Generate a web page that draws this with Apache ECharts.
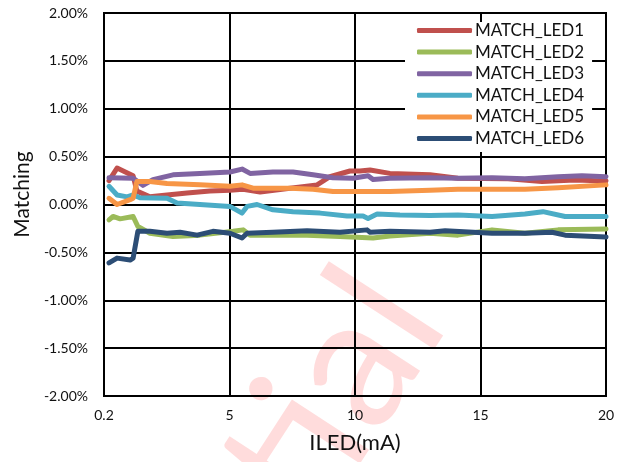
<!DOCTYPE html>
<html>
<head>
<meta charset="utf-8">
<script src="https://cdn.jsdelivr.net/npm/echarts@6/dist/echarts.min.js"></script>
<style>
html,body{margin:0;padding:0;background:#fff;}
#chart{width:621px;height:462px;}
</style>
</head>
<body>
<div id="chart"></div>
<script>
// ---- data (ILED in mA, matching in %) ----
const seriesNames = ['MATCH_LED1','MATCH_LED2','MATCH_LED3','MATCH_LED4','MATCH_LED5','MATCH_LED6'];
const xTickValues = [0, 5, 10, 15, 20];
const xTickLabels = ['0.2', '5', '10', '15', '20'];

const led1X = [0.2,0.52,1.16,1.31,1.83,2.51,3.31,4.22,5.02,5.54,6.22,7.41,8.49,9.0,9.8,10.2,10.6,11.39,12.99,14.1,16.1,17.45,18.76,20];
const led1Y = [0.25,0.38,0.30,0.14,0.08,0.10,0.12,0.14,0.15,0.16,0.13,0.17,0.205,0.29,0.35,0.35,0.36,0.325,0.31,0.275,0.27,0.24,0.255,0.245];

const led2X = [0.2,0.36,0.64,1.16,1.35,1.83,2.75,3.82,5.14,5.54,5.82,6.73,8.09,9.4,10.72,11.39,12.99,14.1,15.46,16.77,18.09,20];
const led2Y = [-0.16,-0.125,-0.15,-0.125,-0.23,-0.30,-0.335,-0.32,-0.28,-0.265,-0.32,-0.32,-0.32,-0.335,-0.35,-0.33,-0.30,-0.32,-0.265,-0.30,-0.265,-0.255];

const led3X = [0.2,1.16,1.55,1.95,2.75,3.82,5.02,5.50,5.82,6.73,7.53,8.33,9.12,9.92,10.52,10.72,11.39,12.99,14.1,15.46,16.77,18.09,19.04,20];
const led3Y = [0.28,0.275,0.20,0.26,0.31,0.325,0.34,0.37,0.325,0.34,0.34,0.31,0.28,0.275,0.30,0.26,0.275,0.28,0.275,0.28,0.27,0.29,0.30,0.29];

const led4X = [0.2,0.52,0.92,1.16,1.43,2.51,2.91,3.82,5.02,5.50,5.70,6.10,6.73,7.53,8.61,9.68,10.32,10.52,10.88,11.79,12.99,14.1,15.46,16.77,17.49,18.37,20];
const led4Y = [0.19,0.10,0.08,0.10,0.07,0.065,0.015,0.0,-0.02,-0.09,-0.02,0.0,-0.055,-0.075,-0.09,-0.12,-0.12,-0.145,-0.10,-0.11,-0.115,-0.11,-0.125,-0.10,-0.075,-0.125,-0.125];

const led5X = [0.2,0.52,1.04,1.16,1.31,1.83,2.51,3.82,5.02,5.50,5.94,7.41,8.33,9.12,10.08,11.39,12.99,14.1,15.46,16.77,18.09,20];
const led5Y = [0.065,0.0,0.05,0.065,0.24,0.24,0.22,0.205,0.19,0.205,0.17,0.17,0.16,0.135,0.135,0.135,0.15,0.16,0.16,0.16,0.175,0.205];

const led6X = [0.2,0.52,1.04,1.16,1.35,1.83,2.51,3.03,3.71,4.34,5.02,5.50,5.70,6.73,8.09,9.40,10.48,10.6,11.39,12.99,13.59,15.46,16.77,17.85,18.37,20];
const led6Y = [-0.61,-0.56,-0.58,-0.56,-0.28,-0.28,-0.30,-0.29,-0.32,-0.28,-0.30,-0.35,-0.30,-0.29,-0.275,-0.29,-0.265,-0.29,-0.28,-0.29,-0.275,-0.30,-0.30,-0.29,-0.32,-0.34];

const colors = ['#C0504D','#9BBB59','#8064A2','#4BACC6','#F79646','#2C4D75'];

const xs = [led1X, led2X, led3X, led4X, led5X, led6X];
const ys = [led1Y, led2Y, led3Y, led4Y, led5Y, led6Y];

const FONT = 'Lato, "Liberation Sans", sans-serif';

const chart = echarts.init(document.getElementById('chart'), null, {renderer: 'canvas'});

const series = seriesNames.map((name, i) => ({
  name: name,
  type: 'line',
  symbol: 'none',
  smooth: false,
  data: xs[i].map((x, j) => [x, ys[i][j]]),
  lineStyle: {width: 5, color: colors[i], cap: 'round', join: 'round'},
  itemStyle: {color: colors[i]},
  emphasis: {disabled: true},
  z: 3
}));

chart.setOption({
  animation: false,
  backgroundColor: '#fff',
  color: colors,
  grid: {left: 104, right: 15, top: 13, bottom: 66, show: true, borderColor: '#000', borderWidth: 2},
  legend: {
    orient: 'vertical',
    left: 405,
    top: 22,
    padding: [0, 8, 5, 12],
    backgroundColor: '#fff',
    itemWidth: 55,
    itemHeight: 5,
    itemGap: 4.6,
    icon: 'roundRect',
    textStyle: {fontFamily: FONT, fontSize: 17, color: '#111', padding: [0,0,0,-2]},
    data: seriesNames,
    z: 10
  },
  xAxis: {
    type: 'value',
    min: 0,
    max: 20,
    interval: 5,
    name: 'ILED(mA)',
    nameLocation: 'middle',
    nameGap: 36,
    nameTextStyle: {fontFamily: FONT, fontSize: 22, color: '#111'},
    axisLine: {show: true, lineStyle: {color: '#000', width: 2}},
    axisTick: {show: false},
    axisLabel: {
      fontFamily: FONT, fontSize: 14, color: '#111', margin: 12,
      formatter: v => xTickLabels[xTickValues.indexOf(v)]
    },
    splitLine: {show: true, lineStyle: {color: '#000', width: 2}}
  },
  yAxis: {
    type: 'value',
    min: -2,
    max: 2,
    interval: 0.5,
    name: 'Matching',
    nameLocation: 'middle',
    nameGap: 68,
    nameTextStyle: {fontFamily: FONT, fontSize: 21, color: '#111', padding: [0, 0, 0, 20]},
    axisLine: {show: true, lineStyle: {color: '#000', width: 2}},
    axisTick: {show: false},
    axisLabel: {
      fontFamily: FONT, fontSize: 14, color: '#111', margin: 16,
      formatter: v => v.toFixed(2) + '%'
    },
    splitLine: {show: true, lineStyle: {color: '#000', width: 2}}
  },
  graphic: [{
    type: 'text',
    x: 478,
    y: 342,
    rotation: 57 * Math.PI / 180,
    z: -10,
    silent: true,
    style: {
      text: 'Confidential',
      fontFamily: FONT,
      fontSize: 185,
      fill: 'rgba(255,120,120,0.26)',
      textAlign: 'right',
      textVerticalAlign: 'bottom'
    }
  }],
  series: series
});
</script>
</body>
</html>
